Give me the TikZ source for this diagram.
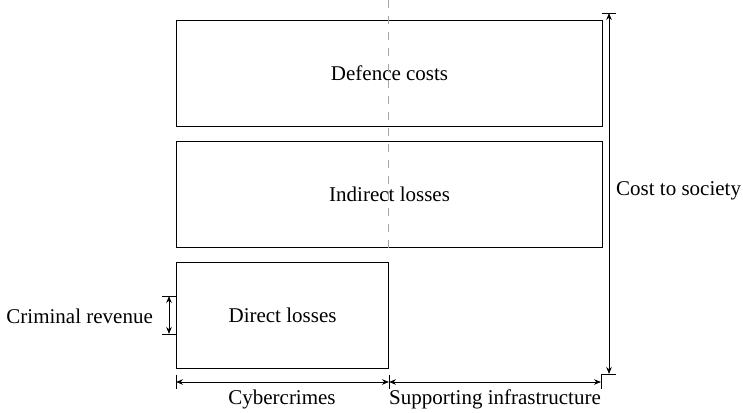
\documentclass[tikz,border=0pt]{standalone}
\usepackage{fontspec}
\setmainfont{Liberation Serif}
\usetikzlibrary{arrows.meta}
\begin{document}
\begin{tikzpicture}[x=1pt,y=-1pt,
  every node/.style={font=\fontsize{21}{25}\selectfont},
  costbox/.style={draw,line width=1.1pt,inner sep=0pt,anchor=north west},
  dimline/.style={line width=0.9pt,{Stealth[length=7pt,width=5.5pt]}-{Stealth[length=7pt,width=5.5pt]}},
  tick/.style={line width=0.9pt},
  lbl/.style={inner sep=1pt}]
\useasboundingbox (0,0) rectangle (743,412);
% boxes
\node[costbox,minimum width=426pt,minimum height=106pt] (def) at (176,20) {};
\node[costbox,minimum width=426pt,minimum height=106pt] (ind) at (176,141) {};
\node[costbox,minimum width=212pt,minimum height=106pt] (dir) at (176,262) {};
\node (deft) at (def.center) {Defence costs};
\node (indt) at (ind.center) {Indirect losses};
\node (dirt) at (dir.center) {Direct losses};
% dashed divider
\coordinate (dtop) at (388.5,0);
\coordinate (dbot) at (388.5,252);
\draw[gray!70,line width=1pt,dash pattern=on 8pt off 8pt] (dtop) -- (dbot);
% cost to society
\coordinate (ct) at (609,13);
\coordinate (cb) at (609,374);
\coordinate (ctl) at (602,13); \coordinate (ctr) at (616,13);
\coordinate (cbl) at (601,374); \coordinate (cbr) at (616,374);
\draw[tick] (ctl) -- (ctr);
\draw[tick] (cbl) -- (cbr);
\draw[dimline] (ct) -- (cb);
\node[lbl,anchor=west] (cts) at (615,191) {Cost to society};
% bottom dimensions
\coordinate (b1t) at (176,375); \coordinate (b1b) at (176,389);
\coordinate (b2t) at (389,375); \coordinate (b2b) at (389,389);
\coordinate (b3t) at (601,374); \coordinate (b3b) at (601,389);
\draw[tick] (b1t) -- (b1b);
\draw[tick] (b2t) -- (b2b);
\draw[tick] (b3t) -- (b3b);
\coordinate (a1) at (176,382); \coordinate (a2) at (389,382); \coordinate (a3) at (601,382);
\draw[dimline] (a1) -- (a2);
\draw[dimline] (a2) -- (a3);
\node[lbl] (cyb) at (282,399) {Cybercrimes};
\node[lbl] (sup) at (495,399) {Supporting infrastructure};
% criminal revenue
\coordinate (r1l) at (162,296); \coordinate (r1r) at (176,296);
\coordinate (r2l) at (162,334); \coordinate (r2r) at (176,334);
\draw[tick] (r1l) -- (r1r);
\draw[tick] (r2l) -- (r2r);
\coordinate (ra) at (169,296); \coordinate (rb) at (169,334);
\draw[dimline] (ra) -- (rb);
\node[lbl,anchor=east] (crv) at (154,316) {Criminal revenue};
\end{tikzpicture}
\end{document}
